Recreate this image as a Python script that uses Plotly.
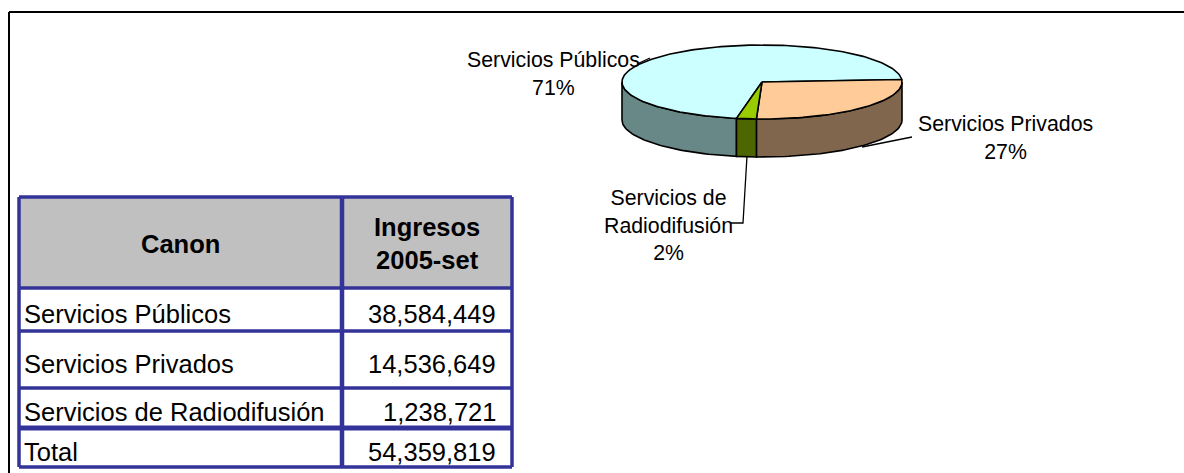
import numpy as np
import plotly.graph_objects as go

# ---- data -------------------------------------------------------------
categorias = ["Servicios Públicos", "Servicios Privados", "Servicios de Radiodifusión"]
ingresos = [38584449, 14536649, 1238721]
etiquetas_pie = ["Servicios Públicos", "Servicios Privados", "Servicios de<br>Radiodifusión"]
encabezados = ["Canon", "Ingresos<br>2005-set"]
fila_total = "Total"

total = sum(ingresos)
fracciones = [v / total for v in ingresos]

# ---- styling / geometry (pixel space of a 1184x473 canvas) -------------
W, H = 1184, 473
FONT = "Liberation Sans, Arial, sans-serif"
TABLE_FS = 25.5
PIE_FS = 21.3

CX, CY, RX, RY, DEPTH = 762, 82, 140, 37, 38
START = 100.5                      # degrees, clockwise from 3 o'clock
top_colors = ["#CCFFFF", "#FFCC99", "#99CC00"]
side_colors = ["#678886", "#80664D", "#4D6600"]

label_pos = [(553, 74), (1005, 138), (668, 225)]
leaders = [
    [(637, 64), (650, 58)],
    [(862, 147), (912, 137)],
    [(747, 156), (743, 223), (731, 223)],
]

TX0, TX1, TXM = 19, 512, 342
ROWS_Y = [197, 288, 331, 388, 428, 467]
BLUE = "#333399"

fig = go.Figure()


def arc(a0, a1, dy=0.0, n=None):
    n = n or max(3, int(abs(a1 - a0) / 1.5) + 2)
    t = np.radians(np.linspace(a0, a1, n))
    return CX + RX * np.cos(t), CY + RY * np.sin(t) + dy


# slice angle ranges from the values
bounds = []
a = START
for f in fracciones:
    bounds.append((a, a + 360 * f))
    a += 360 * f

# side walls (front half only: 0..180 deg on screen)
for (a0, a1), col in zip(bounds, side_colors):
    for shift in (0, 360, -360):
        b0, b1 = max(a0, 0 + shift), min(a1, 180 + shift)
        if b1 > b0:
            xt, yt = arc(b0, b1)
            xb, yb = arc(b1, b0, DEPTH)
            fig.add_trace(go.Scatter(
                x=np.concatenate([xt, xb, xt[:1]]),
                y=np.concatenate([yt, yb, yt[:1]]),
                mode="lines", fill="toself", fillcolor=col,
                line=dict(color="black", width=1.6),
                hoverinfo="skip", showlegend=False))

# top faces
for (a0, a1), col in zip(bounds, top_colors):
    xa, ya = arc(a0, a1)
    fig.add_trace(go.Scatter(
        x=np.concatenate([[CX], xa, [CX]]),
        y=np.concatenate([[CY], ya, [CY]]),
        mode="lines", fill="toself", fillcolor=col,
        line=dict(color="black", width=1.6),
        hoverinfo="skip", showlegend=False))

# leader lines
for pts in leaders:
    fig.add_trace(go.Scatter(
        x=[p[0] for p in pts], y=[p[1] for p in pts], mode="lines",
        line=dict(color="black", width=1.3),
        hoverinfo="skip", showlegend=False))

# pie data labels
for lab, f, (lx, ly) in zip(etiquetas_pie, fracciones, label_pos):
    fig.add_annotation(x=lx, y=ly, text=f"{lab}<br>{round(f * 100):.0f}%",
                       showarrow=False, xanchor="center", yanchor="middle",
                       font=dict(family=FONT, size=PIE_FS, color="black"))

# ---- table -------------------------------------------------------------
shapes = []
shapes.append(dict(type="rect", x0=TX0, x1=TX1, y0=ROWS_Y[0], y1=ROWS_Y[1],
                   fillcolor="#C0C0C0", line=dict(width=0), layer="below"))
for i, yy in enumerate(ROWS_Y):
    w = 5 if i == 4 else 3.5
    shapes.append(dict(type="line", x0=TX0, x1=TX1, y0=yy, y1=yy,
                       line=dict(color=BLUE, width=w)))
for xx in (TX0, TXM, TX1):
    w = 4.5 if xx == TXM else 3.5
    shapes.append(dict(type="line", x0=xx, x1=xx, y0=ROWS_Y[0], y1=ROWS_Y[-1],
                       line=dict(color=BLUE, width=w)))

# outer frame
shapes.append(dict(type="line", x0=9, x1=9, y0=H + 5, y1=12,
                   line=dict(color="black", width=2)))
shapes.append(dict(type="line", x0=9, x1=W + 5, y0=12, y1=12,
                   line=dict(color="black", width=2)))

# header texts
fig.add_annotation(x=(TX0 + TXM) / 2, y=(ROWS_Y[0] + ROWS_Y[1]) / 2 + 1,
                   text=f"<b>{encabezados[0]}</b>", showarrow=False,
                   font=dict(family=FONT, size=TABLE_FS, color="black"))
fig.add_annotation(x=(TXM + TX1) / 2, y=(ROWS_Y[0] + ROWS_Y[1]) / 2 + 1,
                   text="<b>" + encabezados[1].replace("<br>", "</b><br><b>") + "</b>",
                   showarrow=False,
                   font=dict(family=FONT, size=TABLE_FS, color="black"))

# body rows
filas = list(zip(categorias, ingresos)) + [(fila_total, total)]
for i, (nombre, valor) in enumerate(filas):
    yc = (ROWS_Y[i + 1] + ROWS_Y[i + 2]) / 2 + 4
    fig.add_annotation(x=TX0 + 3, y=yc, text=nombre, showarrow=False,
                       xanchor="left", yanchor="middle",
                       font=dict(family=FONT, size=TABLE_FS, color="black"))
    fig.add_annotation(x=TX1 - 14, y=yc, text=f"{valor:,}", showarrow=False,
                       xanchor="right", yanchor="middle",
                       font=dict(family=FONT, size=TABLE_FS, color="black"))

fig.update_layout(
    width=W, height=H, autosize=False,
    margin=dict(l=0, r=0, t=0, b=0),
    paper_bgcolor="white", plot_bgcolor="white",
    xaxis=dict(range=[0, W], visible=False, fixedrange=True),
    yaxis=dict(range=[H, 0], visible=False, fixedrange=True),
    shapes=shapes,
    showlegend=False,
)

fig.write_html("out.html")
